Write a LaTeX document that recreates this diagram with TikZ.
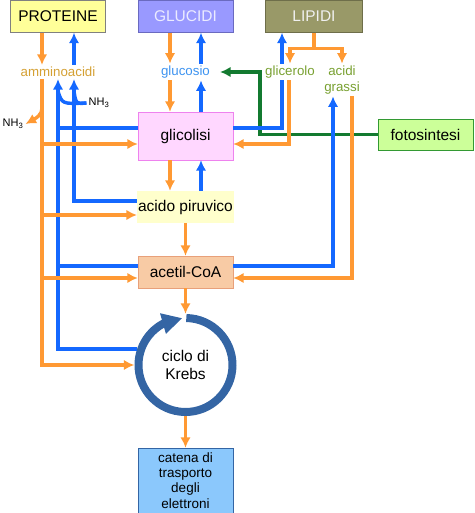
\documentclass[tikz,border=0pt]{standalone}
\usepackage{fontspec}
\setmainfont{Liberation Sans}
\usetikzlibrary{arrows.meta,bending}

\definecolor{metorange}{HTML}{FF9933}
\definecolor{metblue}{HTML}{1468FF}
\definecolor{metgreen}{HTML}{137A30}
\definecolor{krebsblue}{HTML}{3465A4}
\definecolor{aminotxt}{HTML}{D4A033}
\definecolor{glucotxt}{HTML}{3D93F0}
\definecolor{lipidtxt}{HTML}{78A030}
\definecolor{protfill}{HTML}{FFFF99}
\definecolor{glucfill}{HTML}{9999FF}
\definecolor{glucdraw}{HTML}{6A6AC0}
\definecolor{lipfill}{HTML}{999968}
\definecolor{lipdraw}{HTML}{6E6E4A}
\definecolor{glicfill}{HTML}{FFD7FF}
\definecolor{glicdraw}{HTML}{EE82EE}
\definecolor{fotofill}{HTML}{CCFF99}
\definecolor{fotodraw}{HTML}{339933}
\definecolor{piruvfill}{HTML}{FFFFCC}
\definecolor{acetfill}{HTML}{F8CBA5}
\definecolor{acetdraw}{HTML}{E8A07A}
\definecolor{catfill}{HTML}{8BC8FC}

\tikzset{
  box/.style={draw, rectangle, minimum width=95pt, minimum height=32pt, inner sep=1pt,
    align=center, font=\fontsize{15.5}{17.5}\selectfont},
  lbl/.style={inner sep=2pt, align=center, font=\fontsize{13.3}{16}\selectfont},
  nhlbl/.style={inner sep=2pt, font=\fontsize{11}{13}\selectfont},
  oline/.style={draw=metorange, line width=3.4pt},
  bline/.style={draw=metblue, line width=3.4pt},
  oarr/.style={oline, -{Latex[length=10.5pt,width=10.5pt]}},
  barr/.style={bline, -{Latex[length=10.5pt,width=10.5pt]}},
  garr/.style={draw=metgreen, line width=3.4pt, -{Latex[length=10.5pt,width=10.5pt]}},
}

\begin{document}
\begin{tikzpicture}[x=1pt, y=-1pt]

        \useasboundingbox (0,0) rectangle (474,513);

        % sources
        \node[box, fill=protfill, draw=gray] (prot) at (58,16.5) {PROTEINE};
        \node[box, fill=glucfill, draw=glucdraw, text=white!92!blue] (gluc) at (185.5,16.5) {GLUCIDI};
        \node[box, fill=lipfill, draw=lipdraw, text=white!94!black, minimum width=97pt] (lip) at (314,16.5) {LIPIDI};

        % monomers
        \node[lbl, text=aminotxt] (ammino) at (58,72) {amminoacidi};
        \node[lbl, text=glucotxt] (glucosio) at (185.5,72) {glucosio};
        \node[lbl, text=lipidtxt] (glicerolo) at (290,72) {glicerolo};
        \node[lbl, text=lipidtxt] (grassi) at (342,80) {acidi\\grassi};
        \node[nhlbl] (nhb) at (99,103) {NH\textsubscript{3}};
        \node[nhlbl] (nho) at (13,124) {NH\textsubscript{3}};

        % pathway
        \node[box, fill=glicfill, draw=glicdraw, minimum height=48pt] (glic) at (185.5,136) {glicolisi};
        \node[box, fill=fotofill, draw=fotodraw, minimum height=31pt] (foto) at (425.5,134.5) {fotosintesi};
        \node[box, fill=piruvfill, draw=none] (piruv) at (185.5,207) {acido piruvico};
        \node[box, fill=acetfill, draw=acetdraw] (acet) at (185.5,272) {acetil-CoA};
        \node[circle, minimum size=102pt, inner sep=0pt, align=center,
              font=\fontsize{15.5}{17.5}\selectfont] (krebs) at (185.5,365) {ciclo di\\Krebs};
        \node[box, fill=catfill, draw=krebsblue, minimum height=65pt,
              font=\fontsize{13.5}{15.3}\selectfont] (catena) at (185.5,480.5) {catena di\\trasporto\\degli\\elettroni};

        % krebs ring
        \draw[krebsblue, line width=8pt, -{Triangle[length=20pt,width=20pt]}]
            (krebs.center) ++(89:47pt) arc[start angle=89, end angle=-266, radius=47pt];

        % green from fotosintesi
        \coordinate (gbend) at (260,72);
        \draw[garr] (foto.west) -| (gbend) -- ([xshift=8pt]glucosio.east);

        % top row
        \draw[oarr] ([xshift=-16pt]prot.south) -- ([xshift=-16pt]ammino.north);
        \draw[barr] ([xshift=16pt]ammino.north) -- ([xshift=16pt]prot.south);
        \draw[oarr] ([xshift=-15.5pt]gluc.south) -- ([xshift=-15.5pt]glucosio.north);
        \draw[barr] ([xshift=15.5pt]glucosio.north) -- ([xshift=15.5pt]gluc.south);
        \coordinate (lipfork) at ([yshift=-16pt]lip.south);
        \draw[oline] (lip.south) -- (lipfork);
        \draw[oarr] (lipfork) -| (glicerolo.north);
        \draw[oarr] (lipfork) -| (grassi.north);

        % centre column
        \draw[oarr] ([xshift=-15.5pt]glucosio.south) -- ([xshift=-15.5pt]glic.north);
        \draw[barr] ([xshift=15.5pt]glic.north) -- ([xshift=15.5pt]glucosio.south);
        \draw[oarr] ([xshift=-15.5pt]glic.south) -- ([xshift=-15.5pt]piruv.north);
        \draw[barr] ([xshift=15.5pt]piruv.north) -- ([xshift=15.5pt]glic.south);
        \draw[oarr] (piruv.south) -- (acet.north);
        \draw[oarr] (acet.south) -- (krebs.north);
        \draw[oarr] (krebs.south) -- (catena.north);

        % lipids side
        \coordinate (glcb) at ([xshift=-8pt]glicerolo.south);
        \coordinate (glct) at ([xshift=-8pt]glicerolo.north);
        \draw[bline] ([yshift=8pt]glic.east) -| (glcb);
        \draw[barr] (glct) -- (glct |- lip.south);
        \draw[oarr] ([xshift=-1pt]glicerolo.south) |- ([yshift=-8pt]glic.east);
        \draw[barr] ([yshift=6pt]acet.east) -| ([xshift=-9pt]grassi.south);
        \draw[oarr] ([xshift=10pt]grassi.south) |- ([yshift=-6pt]acet.east);

        % amino acids side, blue
        \coordinate (abl) at ([xshift=16pt]ammino.south);
        \coordinate (glicbin) at ([yshift=8pt]glic.west);
        \coordinate (acetbin) at ([yshift=6pt]acet.west);
        \draw[barr] (krebs.162) -| (ammino.south);
        \foreach \t in {glicbin,acetbin}
            \draw[bline] (\t) -- (\t -| ammino.south);
        \draw[barr] ([yshift=6pt]piruv.west) -| (abl);
        \draw[bline] (nhb.west) .. controls (76,104) .. ([yshift=-12pt]abl);
        \draw[bline] (nhb.west) .. controls (62,104) .. ([yshift=-12pt]ammino.south);

        % amino acids side, orange
        \coordinate (aor) at ([xshift=-16pt]ammino.south);
        \coordinate (glicoin) at ([yshift=-8pt]glic.west);
        \coordinate (piruvoin) at ([yshift=-8pt]piruv.west);
        \coordinate (acetoin) at ([yshift=-6pt]acet.west);
        \draw[oarr] (aor) |- (krebs.west);
        \foreach \t in {glicoin,piruvoin,acetoin}
            \draw[oarr] (\t -| aor) -- (\t);
        \draw[oarr] ([yshift=-22pt]aor) .. controls +(0,14) .. (nho.east);

\end{tikzpicture}
\end{document}
